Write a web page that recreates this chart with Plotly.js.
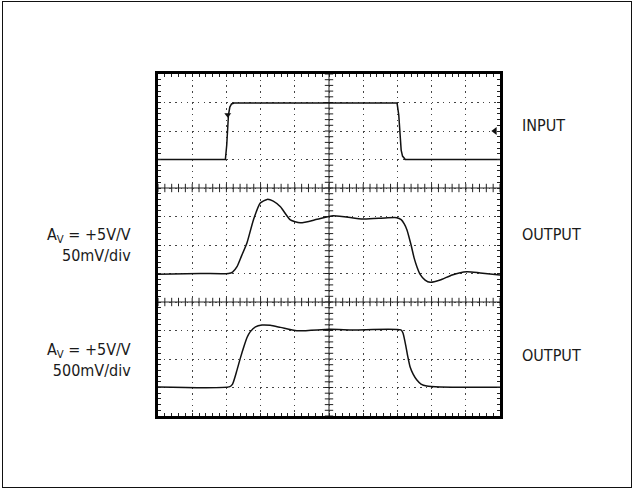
<!DOCTYPE html>
<html>
<head>
<meta charset="utf-8">
<script src="https://cdn.plot.ly/plotly-3.0.1.min.js"></script>
<style>
  html, body { margin: 0; padding: 0; background: #fff; }
  #wrap { position: relative; width: 634px; height: 490px; }
  #frame { position: absolute; left: 2px; top: 1px; width: 628px; height: 485px; border: 1.5px solid #111; pointer-events: none; }
  #chart { position: absolute; left: 0; top: 0; width: 634px; height: 490px; }
</style>
</head>
<body>
<div id="wrap"><div id="chart"></div><div id="frame"></div></div>
<script>
// Time axis in scope divisions, amplitudes in screen divisions (0 = bottom of screen)
const inputT = [0, 1.97, 2.01, 2.06, 2.10, 2.15, 2.23, 6.99, 7.04, 7.08, 7.11, 7.15, 7.23, 10];
const inputV = [9.0, 9.0, 9.51, 10.56, 10.84, 10.95, 10.98, 10.98, 10.56, 9.86, 9.33, 9.12, 9.0, 9.0];

const out50T = [0, 1.24, 2.06, 2.18, 2.31, 2.44, 2.60, 2.79, 2.99, 3.19, 3.37, 3.58, 3.87, 4.16, 4.65, 5.12, 6.0, 6.64, 6.98, 7.11, 7.20, 7.28, 7.40, 7.49, 7.57, 7.66, 7.81, 7.96, 8.25, 8.60, 9.03, 9.42, 10];
const out50V = [4.97, 5.0, 5.0, 5.05, 5.24, 5.61, 6.07, 6.88, 7.47, 7.60, 7.54, 7.34, 6.88, 6.78, 6.90, 7.03, 6.91, 6.95, 6.96, 6.89, 6.74, 6.53, 6.0, 5.54, 5.24, 4.98, 4.77, 4.69, 4.77, 4.95, 5.06, 5.02, 4.95];

const out500T = [0, 2.10, 2.18, 2.31, 2.41, 2.51, 2.61, 2.70, 2.85, 3.04, 3.28, 3.58, 4.06, 5.01, 5.71, 7.10, 7.16, 7.23, 7.30, 7.37, 7.46, 7.57, 7.69, 7.86, 8.25, 10];
const out500V = [1.02, 1.03, 1.12, 1.61, 2.04, 2.43, 2.77, 2.96, 3.13, 3.19, 3.18, 3.11, 2.99, 3.04, 3.02, 3.02, 2.92, 2.56, 2.11, 1.73, 1.47, 1.26, 1.12, 1.05, 1.02, 1.01];

const rightLabels = ['INPUT', 'OUTPUT', 'OUTPUT'];
const leftLabels = ['A<sub>V</sub> = +5V/V<br>50mV/div', 'A<sub>V</sub> = +5V/V<br>500mV/div'];

// Graticule constants
const XDIV = 10, YDIV = 12, SUB = 5;
const cx = 5, hLines = [4, 8];

// Tick marks along the graticule centre lines
const vTickX = [], vTickY = [], hTickX = [], hTickY = [];
for (let i = 0; i <= YDIV * SUB; i++) { vTickX.push(cx); vTickY.push(i / SUB); }
hLines.forEach(h => { for (let i = 0; i <= XDIV * SUB; i++) { hTickX.push(i / SUB); hTickY.push(h); } });

const FONT = 'Liberation Sans Narrow, "DejaVu Sans Condensed", Arial Narrow, sans-serif';
const lineStyle = {color: '#111', width: 1.5};

const traces = [
  {x: vTickX, y: vTickY, mode: 'markers', hoverinfo: 'skip', showlegend: false,
   marker: {symbol: 'line-ew', size: 6, line: {color: '#222', width: 1}}},
  {x: hTickX, y: hTickY, mode: 'markers', hoverinfo: 'skip', showlegend: false,
   marker: {symbol: 'line-ns', size: 6, line: {color: '#222', width: 1}}},
  {x: inputT, y: inputV, mode: 'lines', line: {...lineStyle, shape: 'linear'}, showlegend: false},
  {x: out50T, y: out50V, mode: 'lines', line: {...lineStyle, shape: 'spline', smoothing: 0.6}, showlegend: false},
  {x: out500T, y: out500V, mode: 'lines', line: {...lineStyle, shape: 'spline', smoothing: 0.6}, showlegend: false},
  // trigger and channel reference markers
  {x: [2.04], y: [10.57], mode: 'markers', showlegend: false, hoverinfo: 'skip',
   marker: {symbol: 'triangle-down', size: 6, color: '#111'}},
  {x: [9.85], y: [10.0], mode: 'markers', showlegend: false, hoverinfo: 'skip', cliponaxis: false,
   marker: {symbol: 'triangle-left', size: 7, color: '#111'}}
];

const axisCommon = {
  showticklabels: false, zeroline: false,
  showgrid: true, gridcolor: '#444', gridwidth: 1, griddash: '1.5px,4.2px',
  showline: true, linecolor: '#000', linewidth: 3, mirror: 'ticks',
  ticks: 'inside', ticklen: 3, tickwidth: 1, tickcolor: '#222',
  minor: {ticks: 'inside', ticklen: 3, tickwidth: 1, tickcolor: '#222', showgrid: false},
  fixedrange: true
};

// label positions in paper units (outside the plotting area)
const rightX = 1.058, rightY = [0.850, 0.531, 0.177];
const leftX = -0.072, leftY = [0.500, 0.164];

const annotations = [];
rightLabels.forEach((t, i) => annotations.push({
  x: rightX, y: rightY[i], xref: 'paper', yref: 'paper', text: t, showarrow: false,
  xanchor: 'left', yanchor: 'middle', font: {family: FONT, size: 16, color: '#1a1a1a'}
}));
leftLabels.forEach((t, i) => annotations.push({
  x: leftX, y: leftY[i], xref: 'paper', yref: 'paper', text: t, showarrow: false, align: 'right',
  xanchor: 'right', yanchor: 'middle', font: {family: FONT, size: 16, color: '#1a1a1a'}
}));

const layout = {
  width: 634, height: 490,
  margin: {l: 158, r: 134, t: 74, b: 74, pad: 0},
  paper_bgcolor: '#fff', plot_bgcolor: '#fff',
  showlegend: false,
  xaxis: {...axisCommon, range: [0, XDIV], tick0: 0, dtick: 1, minor: {...axisCommon.minor, dtick: 1 / SUB}},
  yaxis: {...axisCommon, range: [0, YDIV], tick0: 0, dtick: 1, minor: {...axisCommon.minor, dtick: 1 / SUB}},
  shapes: [
    {type: 'line', xref: 'x', yref: 'y', x0: cx, x1: cx, y0: 0, y1: YDIV, line: {color: '#222', width: 1}, layer: 'below'},
    ...hLines.map(h => ({type: 'line', xref: 'x', yref: 'y', x0: 0, x1: XDIV, y0: h, y1: h, line: {color: '#222', width: 1}, layer: 'below'}))
  ],
  annotations: annotations
};

Plotly.newPlot('chart', traces, layout, {displayModeBar: false, staticPlot: true});
</script>
</body>
</html>
